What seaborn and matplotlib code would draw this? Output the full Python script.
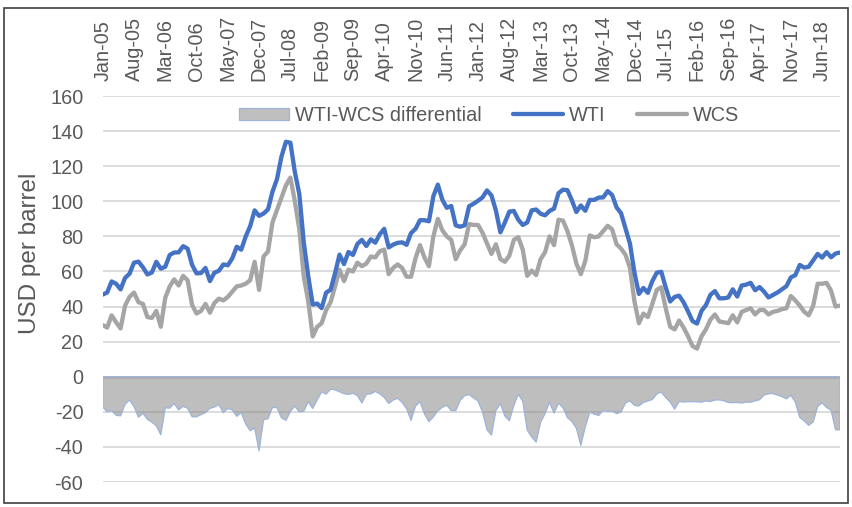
import matplotlib
matplotlib.use("Agg")
import matplotlib.pyplot as plt
from matplotlib.patches import Rectangle, Patch
from matplotlib.lines import Line2D
import seaborn as sns
import numpy as np
import pandas as pd

# ---------------- data (monthly, Jan-05 .. Oct-18) ----------------
WTI = [
    46.8, 48.0, 54.3, 53.0, 49.8, 56.3, 58.7, 65.0, 65.6, 62.4, 58.3, 59.4,
    65.5, 61.6, 62.7, 69.4, 70.8, 70.9, 74.4, 73.0, 63.8, 58.9, 59.1, 62.0,
    54.5, 59.3, 60.4, 64.0, 63.5, 67.5, 74.1, 72.4, 79.9, 85.8, 94.8, 91.7,
    93.0, 95.4, 105.5, 112.6, 125.4, 133.9, 133.4, 116.7, 104.1, 76.6, 57.3, 41.1,
    41.7, 39.1, 47.9, 49.6, 59.0, 69.6, 64.2, 71.1, 69.4, 75.7, 78.0, 74.5,
    78.3, 76.4, 81.2, 84.3, 73.7, 75.3, 76.3, 76.6, 75.2, 81.9, 84.3, 89.2,
    89.2, 88.6, 102.9, 109.5, 100.9, 96.3, 97.3, 86.3, 85.5, 86.3, 97.2, 98.6,
    100.3, 102.2, 106.2, 103.3, 94.7, 82.3, 87.9, 94.1, 94.5, 89.5, 86.5, 87.9,
    94.8, 95.3, 92.9, 92.0, 94.5, 95.8, 104.6, 106.6, 106.3, 100.5, 93.9, 97.6,
    94.6, 100.8, 100.8, 102.1, 102.2, 105.8, 103.6, 96.5, 93.2, 84.4, 75.8, 59.3,
    47.2, 50.6, 47.8, 54.5, 59.3, 59.8, 50.9, 42.9, 45.5, 46.2, 42.4, 37.2,
    31.7, 30.3, 37.5, 40.8, 46.7, 48.8, 44.7, 44.7, 45.2, 49.8, 45.7, 52.0,
    52.5, 53.5, 49.3, 51.1, 48.5, 45.2, 46.6, 48.0, 49.8, 51.6, 56.6, 57.9,
    63.7, 62.2, 62.7, 66.3, 70.0, 67.9, 71.0, 68.1, 70.2, 70.8,
]
WCS = [
    29.5, 28.0, 35.0, 31.0, 27.5, 40.5, 45.5, 48.0, 42.5, 41.5, 34.0, 33.5,
    37.5, 28.5, 45.0, 51.5, 55.5, 52.0, 57.5, 55.0, 41.0, 36.0, 37.5, 41.5,
    36.5, 42.0, 44.5, 43.5, 45.5, 48.5, 51.5, 52.0, 53.0, 55.0, 65.5, 49.5,
    68.5, 71.5, 88.0, 95.0, 102.0, 109.0, 113.5, 100.0, 84.0, 57.0, 43.0, 23.0,
    28.5, 30.5, 38.0, 42.5, 51.5, 61.0, 54.5, 61.0, 60.0, 65.0, 63.0, 64.5,
    68.5, 68.0, 71.5, 72.5, 58.5, 62.0, 64.0, 62.0, 57.0, 57.0, 67.5, 75.0,
    68.0, 63.0, 80.0, 90.0, 83.5, 80.0, 78.0, 67.0, 72.0, 75.5, 87.0, 86.5,
    86.5, 82.0, 76.0, 70.0, 75.5, 67.0, 65.5, 69.0, 78.0, 79.5, 72.5, 57.5,
    60.5, 58.0, 67.0, 71.0, 80.0, 75.0, 89.5, 89.0, 83.0, 75.0, 64.5, 58.5,
    66.0, 80.5, 79.5, 80.0, 83.0, 86.0, 84.0, 75.5, 73.0, 69.5, 62.0, 43.0,
    30.5, 36.0, 34.0, 41.5, 49.5, 51.0, 39.0, 28.5, 27.0, 32.0, 28.0, 23.0,
    17.5, 16.0, 23.0, 27.0, 32.5, 35.5, 31.5, 31.0, 30.5, 35.0, 31.0, 37.0,
    38.0, 39.0, 35.5, 38.0, 38.0, 35.5, 37.0, 37.5, 38.5, 39.0, 46.0, 43.5,
    40.5, 37.0, 35.0, 40.5, 53.0, 53.0, 53.5, 49.0, 40.0, 40.5,
]
TICK_LABELS = ["Jan-05", "Aug-05", "Mar-06", "Oct-06", "May-07", "Dec-07",
               "Jul-08", "Feb-09", "Sep-09", "Apr-10", "Nov-10", "Jun-11",
               "Jan-12", "Aug-12", "Mar-13", "Oct-13", "May-14", "Dec-14",
               "Jul-15", "Feb-16", "Sep-16", "Apr-17", "Nov-17", "Jun-18"]
Y_TICKS = [-60, -40, -20, 0, 20, 40, 60, 80, 100, 120, 140, 160]
SERIES_NAMES = ["WTI-WCS differential", "WTI", "WCS"]

df = pd.DataFrame({"month": np.arange(len(WTI)), "WTI": WTI, "WCS": WCS})
df["diff"] = df["WCS"] - df["WTI"]

# ---------------- style ----------------
sns.set_theme(style="white")
plt.rcParams["font.family"] = ["Liberation Sans", "DejaVu Sans"]
TXT = "#595959"
GRID = "#D9D9D9"
FS = 14.3

W, H = 853, 507
fig = plt.figure(figsize=(W / 100, H / 100), dpi=100)
left, right, top, bottom = 102.7, 840.0, 96.0, 482.0
ax = fig.add_axes([left / W, 1 - bottom / H, (right - left) / W, (bottom - top) / H])

for v in Y_TICKS:
    ax.axhline(v, color=GRID, lw=1.3 if v != 0 else 2.0, zorder=0)

ax.fill_between(df["month"], 0, df["diff"], facecolor="#7F7F7F", alpha=0.5,
                edgecolor="none", zorder=1)
ax.fill_between(df["month"], 0, df["diff"], facecolor="none",
                edgecolor="#9DB3DA", lw=0.9, zorder=1.5)

sns.lineplot(data=df, x="month", y="WTI", ax=ax, color="#4472C4", lw=3.1,
             zorder=3, legend=False)
sns.lineplot(data=df, x="month", y="WCS", ax=ax, color="#A5A5A5", lw=3.1,
             zorder=2.5, legend=False)
for ln in ax.get_lines()[-2:]:
    ln.set_solid_joinstyle("round")
    ln.set_solid_capstyle("round")

ax.set_xlim(0, len(WTI) - 1)
ax.set_ylim(-60, 160)
for s in ax.spines.values():
    s.set_visible(False)

ax.xaxis.tick_top()
ax.set_xticks(np.arange(len(TICK_LABELS)) * 7)
ax.set_xticklabels(TICK_LABELS, rotation=90, fontsize=FS, color=TXT)
ax.set_yticks(Y_TICKS)
ax.set_yticklabels([str(v) for v in Y_TICKS], fontsize=FS, color=TXT)
ax.tick_params(axis="x", length=0, pad=11)
ax.tick_params(axis="y", length=0, pad=14)
ax.set_xlabel("")
ax.set_ylabel("")

fig.text(30 / W, 1 - 253 / H, "USD per barrel", rotation=90, ha="center",
         va="center", fontsize=17.5, color=TXT)

handles = [Patch(facecolor="#BFBFBF", edgecolor="#9DB3DA", lw=0.9),
           Line2D([], [], color="#4472C4", lw=3.1),
           Line2D([], [], color="#A5A5A5", lw=3.1)]
leg = fig.legend(handles, SERIES_NAMES, loc="center", ncol=3, frameon=False,
                 bbox_to_anchor=(489 / W, 1 - 115.5 / H), fontsize=FS,
                 handlelength=2.5, handletextpad=0.3, columnspacing=1.6,
                 handleheight=0.55)
for t in leg.get_texts():
    t.set_color(TXT)

fig.patches.append(Rectangle((4.5 / W, 4.5 / H), (848.5 - 4.5) / W, (499 - 4.5) / H,
                             transform=fig.transFigure, fill=False,
                             edgecolor="#404040", lw=1.2))

fig.savefig("out.png", dpi=100)
